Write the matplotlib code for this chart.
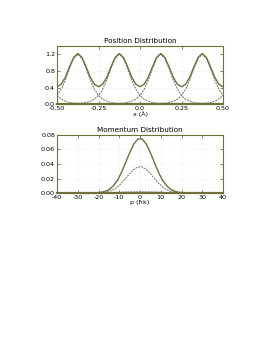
import matplotlib
matplotlib.use("Agg")
import matplotlib.pyplot as plt
import numpy as np

plt.rcParams["axes.unicode_minus"] = False

# position distribution, sampled every 0.025 between -0.5 and 0.5
x_pos = [-0.5 + 0.025 * i for i in range(41)]
pos_a = [0.21, 0.36, 0.58, 0.86, 1.10, 1.20, 1.10, 0.86, 0.58, 0.36,
         0.21, 0.12, 0.07, 0.04, 0.025, 0.02, 0.025, 0.04, 0.07, 0.12,
         0.21, 0.36, 0.58, 0.86, 1.10, 1.20, 1.10, 0.86, 0.58, 0.36,
         0.21, 0.12, 0.07, 0.04, 0.025, 0.02, 0.025, 0.04, 0.07, 0.12,
         0.21]
pos_b = [0.21, 0.12, 0.07, 0.04, 0.025, 0.02, 0.025, 0.04, 0.07, 0.12,
         0.21, 0.36, 0.58, 0.86, 1.10, 1.20, 1.10, 0.86, 0.58, 0.36,
         0.21, 0.12, 0.07, 0.04, 0.025, 0.02, 0.025, 0.04, 0.07, 0.12,
         0.21, 0.36, 0.58, 0.86, 1.10, 1.20, 1.10, 0.86, 0.58, 0.36,
         0.21]
pos_total = [0.42, 0.48, 0.65, 0.90, 1.125, 1.22, 1.125, 0.90, 0.65, 0.48,
             0.42, 0.48, 0.65, 0.90, 1.125, 1.22, 1.125, 0.90, 0.65, 0.48,
             0.42, 0.48, 0.65, 0.90, 1.125, 1.22, 1.125, 0.90, 0.65, 0.48,
             0.42, 0.48, 0.65, 0.90, 1.125, 1.22, 1.125, 0.90, 0.65, 0.48,
             0.42]

# momentum distribution, odd p from -39 to 39
p_mom = list(range(-39, 40, 2))
mom_half = [0.0745, 0.0675, 0.0555, 0.0415, 0.0280, 0.0170, 0.0095,
            0.0048, 0.0022, 0.0009, 0.0003, 0.0001]
mom_total = [0.0] * 8 + mom_half[::-1] + mom_half + [0.0] * 8
dash_half = [0.0360, 0.0325, 0.0267, 0.0199, 0.0134, 0.0081, 0.0045,
             0.0022, 0.0010, 0.0004, 0.0001, 0.0]
mom_dash = [np.nan] * 8 + dash_half[::-1] + dash_half + [np.nan] * 8
small_half = [0.0016, 0.0016, 0.0015, 0.0014, 0.0012, 0.0010, 0.0008,
              0.0006, 0.0004, 0.0003, 0.0002, 0.0001]
mom_small = [np.nan] * 8 + small_half[::-1] + small_half + [np.nan] * 8

OLIVE = "#6f6f3c"
GRAY = "#6e6e6e"
FS = 4.6
DASH = (0, (2.0, 1.0))

fig = plt.figure(figsize=(2.68, 3.46), dpi=100)
ax1 = fig.add_axes([0.213, 0.699, 0.619, 0.168])
ax2 = fig.add_axes([0.213, 0.442, 0.619, 0.168])

ax1.plot(x_pos, pos_a, color=GRAY, lw=0.7, ls=DASH)
ax1.plot(x_pos, pos_b, color=GRAY, lw=0.7, ls=DASH)
ax1.plot(x_pos, pos_total, color=OLIVE, lw=1.0)
ax1.set_xlim(-0.5, 0.5)
ax1.set_ylim(0, 1.4)
ax1.set_xticks([-0.5, -0.25, 0.0, 0.25, 0.5])
ax1.set_xticklabels(["-0.50", "-0.25", "0.0", "0.25", "0.50"])
ax1.set_yticks([0.0, 0.4, 0.8, 1.2])
ax1.set_xlabel("x (\u00c5)", fontsize=FS, labelpad=0)
ax1.set_title("Position Distribution", fontsize=5.2, pad=2)

ax2.plot(p_mom, mom_dash, color=GRAY, lw=0.7, ls=DASH)
ax2.plot(p_mom, mom_small, color=GRAY, lw=0.7, ls=DASH)
ax2.plot(p_mom, mom_total, color=OLIVE, lw=1.0)
ax2.set_xlim(-40, 40)
ax2.set_ylim(0, 0.08)
ax2.set_xticks(range(-40, 41, 10))
ax2.set_yticks([0.0, 0.02, 0.04, 0.06, 0.08])
ax2.set_yticklabels(["0.00", "0.02", "0.04", "0.06", "0.08"])
ax2.set_xlabel("p (\u0127k)", fontsize=FS, labelpad=0)
ax2.set_title("Momentum Distribution", fontsize=5.2, pad=2)

for ax in (ax1, ax2):
    ax.tick_params(direction="in", length=2, width=0.5, labelsize=FS, pad=1.5,
                   top=True, right=True, colors="#555555", labelcolor="black")
    ax.grid(True, color="#dddddd", lw=0.4, ls=":")
    for s in ax.spines.values():
        s.set_color(OLIVE)
        s.set_linewidth(0.8)
    ax.spines["bottom"].set_linewidth(1.6)

fig.savefig("out.png", dpi=100, facecolor="white")
